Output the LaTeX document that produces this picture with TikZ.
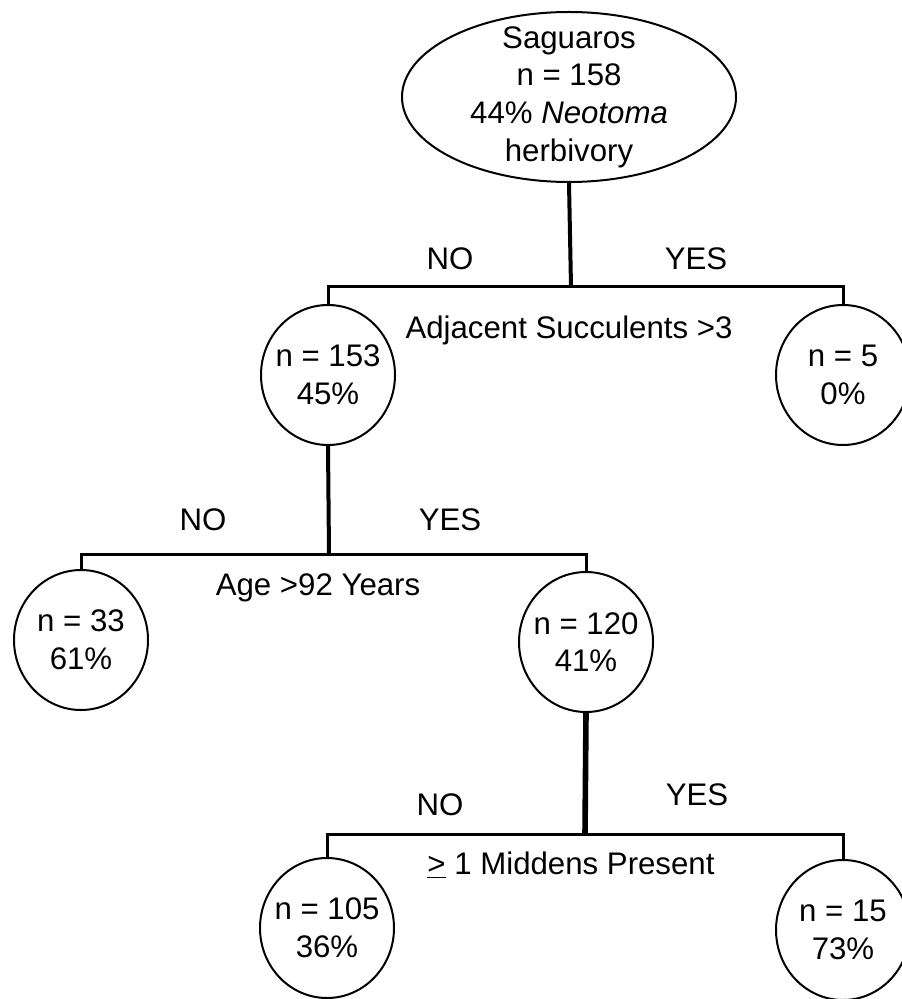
\documentclass[tikz,border=0pt]{standalone}
\usepackage{fontspec}
\setmainfont{Liberation Sans}
\usepackage{tikz}
\usetikzlibrary{shapes.geometric}

\begin{document}
\begin{tikzpicture}[x=0.5pt,y=-0.5pt,
    font=\fontsize{15.6pt}{18.8pt}\selectfont,
    split/.style={draw, ellipse, line width=1pt, inner sep=-20pt,
        minimum width=67pt, minimum height=70pt, align=center},
    rootnode/.style={split, minimum width=167pt, minimum height=85pt},
    bar/.style={line width=1.5pt},
    stem/.style={line width=2pt}]
    \useasboundingbox (0,0) rectangle (901,999);

    % Root - all saguaros
    \node[rootnode] (root) at (569,97) {Saguaros\\ n = 158\\ 44\% \textit{Neotoma}\\ herbivory};

    % Level 1 - adjacent succulents
    \node[split] (n153) at (328,375) {n = 153\\ 45\%};
    \node[split] (n5) at (843,375) {n = 5\\ 0\%};
    \coordinate (j1) at (571,287);
    \draw[stem] (root.south) -- (j1);
    \draw[bar] (n153.north) -- (n153.north |- j1) -- (n5.north |- j1) -- (n5.north);
    \node (no1) at (450,259) {NO};
    \node (yes1) at (696,259) {YES};
    \node (q1) at (569,330) {Adjacent Succulents >3};

    % Level 2 - age
    \node[split] (n33) at (81,640) {n = 33\\ 61\%};
    \node[split] (n120) at (586,642) {n = 120\\ 41\%};
    \coordinate (j2) at (329,554);
    \draw[stem] (n153.south) -- (j2);
    \draw[bar] (n33.north) -- (n33.north |- j2) -- (n120.north |- j2) -- (n120.north);
    \node (no2) at (203,520) {NO};
    \node (yes2) at (450,520) {YES};
    \node (q2) at (318,588) {Age >92 Years};

    % Level 3 - middens
    \node[split] (n105) at (327,928) {n = 105\\ 36\%};
    \node[split] (n15) at (843,930) {n = 15\\ 73\%};
    \coordinate (j3) at (585,834);
    \draw[stem, line width=2.8pt] (n120.south) -- (j3);
    \draw[bar] (n105.north) -- (n105.north |- j3) -- (n15.north |- j3) -- (n15.north);
    \node (no3) at (440,805) {NO};
    \node (yes3) at (697,795) {YES};
    \node (q3) at (571,865) {\underline{>} 1 Middens Present};
\end{tikzpicture}
\end{document}
